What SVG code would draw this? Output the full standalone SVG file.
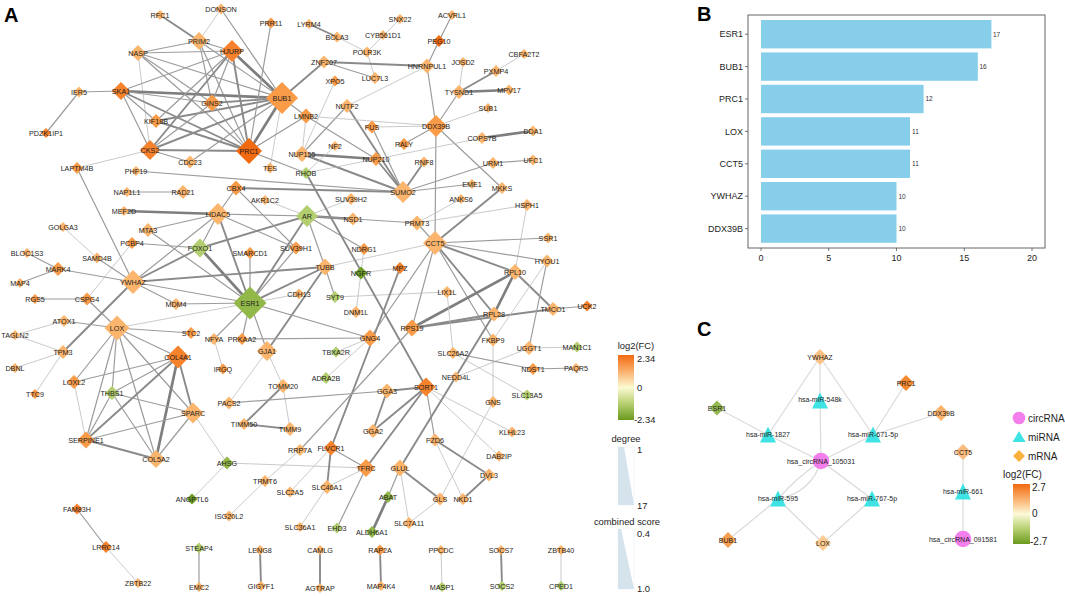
<svg xmlns="http://www.w3.org/2000/svg" width="1065" height="596" viewBox="0 0 1065 596">
<defs>
<linearGradient id="fcA" x1="0" y1="0" x2="0" y2="1">
<stop offset="0" stop-color="#F26A10"/><stop offset="0.28" stop-color="#FBB878"/><stop offset="0.5" stop-color="#FCFAD2"/><stop offset="0.75" stop-color="#B6CF70"/><stop offset="1" stop-color="#6A9A1E"/>
</linearGradient>
<linearGradient id="fcC" x1="0" y1="0" x2="0" y2="1">
<stop offset="0" stop-color="#F26A10"/><stop offset="0.28" stop-color="#FBB878"/><stop offset="0.5" stop-color="#FCFAD8"/><stop offset="0.75" stop-color="#B6CF70"/><stop offset="1" stop-color="#6A9A1E"/>
</linearGradient>
<style>
text{font-family:"Liberation Sans",Arial,sans-serif;fill:#1e1e1e}
.nodes text{font-size:7.2px;text-anchor:middle}
.o1{fill:#FCB56D}.o2{fill:#FA9B48}.o3{fill:#F6822C}.o4{fill:#F26A10}
.g1{fill:#B3CE6E}.g2{fill:#93B84A}.g3{fill:#6E9C27}
.edges line{stroke-linecap:round}
.t{stroke:#bdbdbd;stroke-width:0.8}
.m{stroke:#9c9c9c;stroke-width:1.2}
.k{stroke:#8a8a8a;stroke-width:1.9}
.K{stroke:#7e7e7e;stroke-width:2.7}
.lab{font-weight:bold;font-size:20px;fill:#000}
.ax{font-size:9px;fill:#4d4d4d}
.val{font-size:6.5px;fill:#333}
.bar{fill:#87CEEB}
.ce{stroke:#dadada;stroke-width:1.2;fill:none}
.cn text{font-size:7px;text-anchor:middle}
.tri{fill:#3FE3E3}.circ{fill:#F47FEC}
.leg{font-size:9.4px}
.legc{font-size:10px}
</style>
</defs>
<rect width="1065" height="596" fill="#fff"/>
<text class="lab" x="4" y="22">A</text>
<text class="lab" x="697" y="21">B</text>
<text class="lab" x="697" y="336">C</text>

<g id="edges-A" class="edges">
<line class="m" x1="79" y1="92" x2="121" y2="91"/>
<line class="m" x1="79" y1="92" x2="46" y2="133"/>
<line class="k" x1="160" y1="15" x2="199" y2="41"/>
<line class="m" x1="138" y1="53" x2="199" y2="41"/>
<line class="t" x1="138" y1="53" x2="150" y2="150"/>
<line class="m" x1="138" y1="53" x2="282" y2="98"/>
<line class="m" x1="138" y1="53" x2="232" y2="51"/>
<line class="m" x1="138" y1="53" x2="249" y2="151"/>
<line class="m" x1="138" y1="53" x2="212" y2="103"/>
<line class="m" x1="199" y1="41" x2="282" y2="98"/>
<line class="m" x1="199" y1="41" x2="232" y2="51"/>
<line class="m" x1="199" y1="41" x2="212" y2="103"/>
<line class="t" x1="199" y1="41" x2="221" y2="9"/>
<line class="m" x1="199" y1="41" x2="249" y2="151"/>
<line class="K" x1="121" y1="91" x2="282" y2="98"/>
<line class="k" x1="121" y1="91" x2="249" y2="151"/>
<line class="m" x1="121" y1="91" x2="232" y2="51"/>
<line class="m" x1="121" y1="91" x2="212" y2="103"/>
<line class="m" x1="121" y1="91" x2="150" y2="150"/>
<line class="m" x1="121" y1="91" x2="156" y2="121"/>
<line class="k" x1="156" y1="121" x2="282" y2="98"/>
<line class="k" x1="156" y1="121" x2="249" y2="151"/>
<line class="m" x1="156" y1="121" x2="232" y2="51"/>
<line class="k" x1="150" y1="150" x2="282" y2="98"/>
<line class="k" x1="150" y1="150" x2="249" y2="151"/>
<line class="k" x1="150" y1="150" x2="232" y2="51"/>
<line class="m" x1="150" y1="150" x2="212" y2="103"/>
<line class="t" x1="150" y1="150" x2="77" y2="168"/>
<line class="m" x1="150" y1="150" x2="190" y2="162"/>
<line class="m" x1="190" y1="162" x2="282" y2="98"/>
<line class="K" x1="232" y1="51" x2="282" y2="98"/>
<line class="k" x1="232" y1="51" x2="249" y2="151"/>
<line class="m" x1="232" y1="51" x2="212" y2="103"/>
<line class="k" x1="212" y1="103" x2="282" y2="98"/>
<line class="m" x1="212" y1="103" x2="249" y2="151"/>
<line class="m" x1="221" y1="9" x2="282" y2="98"/>
<line class="m" x1="271" y1="23" x2="249" y2="151"/>
<line class="K" x1="282" y1="98" x2="249" y2="151"/>
<line class="k" x1="282" y1="98" x2="324" y2="62"/>
<line class="m" x1="282" y1="98" x2="306" y2="116"/>
<line class="t" x1="282" y1="98" x2="270" y2="168"/>
<line class="m" x1="249" y1="151" x2="306" y2="116"/>
<line class="m" x1="249" y1="151" x2="306" y2="173"/>
<line class="t" x1="306" y1="116" x2="302" y2="154"/>
<line class="m" x1="306" y1="116" x2="376" y2="159"/>
<line class="m" x1="183" y1="192" x2="127" y2="192"/>
<line class="m" x1="136" y1="171" x2="403" y2="192"/>
<line class="m" x1="77" y1="168" x2="133" y2="282"/>
<line class="k" x1="309" y1="24" x2="337" y2="37"/>
<line class="t" x1="337" y1="37" x2="367" y2="52"/>
<line class="t" x1="400" y1="19" x2="367" y2="52"/>
<line class="t" x1="367" y1="52" x2="375" y2="78"/>
<line class="m" x1="324" y1="62" x2="375" y2="78"/>
<line class="k" x1="324" y1="62" x2="427" y2="66"/>
<line class="t" x1="335" y1="81" x2="302" y2="154"/>
<line class="m" x1="347" y1="106" x2="302" y2="154"/>
<line class="k" x1="347" y1="106" x2="403" y2="192"/>
<line class="t" x1="347" y1="106" x2="427" y2="66"/>
<line class="t" x1="306" y1="116" x2="436" y2="126"/>
<line class="m" x1="372" y1="127" x2="403" y2="192"/>
<line class="t" x1="372" y1="127" x2="436" y2="126"/>
<line class="K" x1="302" y1="154" x2="376" y2="159"/>
<line class="k" x1="302" y1="154" x2="403" y2="192"/>
<line class="k" x1="376" y1="159" x2="403" y2="192"/>
<line class="t" x1="335" y1="146" x2="306" y2="173"/>
<line class="m" x1="404" y1="144" x2="436" y2="126"/>
<line class="k" x1="236" y1="188" x2="403" y2="192"/>
<line class="m" x1="452" y1="15" x2="439" y2="41"/>
<line class="m" x1="439" y1="41" x2="427" y2="66"/>
<line class="m" x1="427" y1="66" x2="436" y2="126"/>
<line class="t" x1="463" y1="62" x2="459" y2="92"/>
<line class="t" x1="524" y1="54" x2="496" y2="71"/>
<line class="k" x1="496" y1="71" x2="459" y2="92"/>
<line class="K" x1="459" y1="92" x2="509" y2="90"/>
<line class="m" x1="459" y1="92" x2="436" y2="126"/>
<line class="t" x1="488" y1="108" x2="436" y2="126"/>
<line class="m" x1="436" y1="126" x2="502" y2="188"/>
<line class="m" x1="436" y1="126" x2="435" y2="243"/>
<line class="K" x1="482" y1="138" x2="533" y2="131"/>
<line class="t" x1="482" y1="138" x2="306" y2="173"/>
<line class="m" x1="493" y1="163" x2="533" y2="160"/>
<line class="m" x1="493" y1="163" x2="403" y2="192"/>
<line class="k" x1="424" y1="162" x2="403" y2="192"/>
<line class="m" x1="472" y1="184" x2="403" y2="192"/>
<line class="k" x1="502" y1="188" x2="435" y2="243"/>
<line class="t" x1="461" y1="199" x2="417" y2="223"/>
<line class="t" x1="527" y1="205" x2="417" y2="223"/>
<line class="t" x1="527" y1="205" x2="515" y2="272"/>
<line class="K" x1="218" y1="214" x2="124" y2="211"/>
<line class="m" x1="218" y1="214" x2="148" y2="230"/>
<line class="m" x1="218" y1="214" x2="236" y2="188"/>
<line class="m" x1="218" y1="214" x2="307" y2="216"/>
<line class="k" x1="218" y1="214" x2="250" y2="303"/>
<line class="m" x1="218" y1="214" x2="200" y2="248"/>
<line class="m" x1="218" y1="214" x2="133" y2="282"/>
<line class="m" x1="218" y1="214" x2="296" y2="248"/>
<line class="m" x1="148" y1="230" x2="250" y2="303"/>
<line class="m" x1="132" y1="243" x2="200" y2="248"/>
<line class="t" x1="132" y1="243" x2="87" y2="299"/>
<line class="K" x1="200" y1="248" x2="250" y2="303"/>
<line class="k" x1="200" y1="248" x2="133" y2="282"/>
<line class="k" x1="200" y1="248" x2="307" y2="216"/>
<line class="K" x1="307" y1="216" x2="353" y2="219"/>
<line class="k" x1="307" y1="216" x2="250" y2="303"/>
<line class="t" x1="307" y1="216" x2="351" y2="199"/>
<line class="m" x1="307" y1="216" x2="364" y2="249"/>
<line class="m" x1="307" y1="216" x2="417" y2="223"/>
<line class="m" x1="307" y1="216" x2="325" y2="267"/>
<line class="t" x1="307" y1="216" x2="265" y2="200"/>
<line class="m" x1="236" y1="188" x2="296" y2="248"/>
<line class="m" x1="250" y1="253" x2="250" y2="303"/>
<line class="m" x1="296" y1="248" x2="250" y2="303"/>
<line class="k" x1="325" y1="267" x2="250" y2="303"/>
<line class="k" x1="325" y1="267" x2="133" y2="282"/>
<line class="m" x1="325" y1="267" x2="335" y2="297"/>
<line class="k" x1="325" y1="267" x2="267" y2="351"/>
<line class="t" x1="361" y1="273" x2="400" y2="268"/>
<line class="t" x1="299" y1="294" x2="250" y2="303"/>
<line class="m" x1="250" y1="303" x2="133" y2="282"/>
<line class="m" x1="250" y1="303" x2="214" y2="339"/>
<line class="m" x1="250" y1="303" x2="242" y2="339"/>
<line class="m" x1="250" y1="303" x2="267" y2="351"/>
<line class="m" x1="250" y1="303" x2="370" y2="338"/>
<line class="m" x1="250" y1="303" x2="176" y2="304"/>
<line class="t" x1="250" y1="303" x2="117" y2="328"/>
<line class="t" x1="214" y1="339" x2="223" y2="369"/>
<line class="m" x1="242" y1="339" x2="370" y2="338"/>
<line class="t" x1="370" y1="338" x2="336" y2="352"/>
<line class="t" x1="370" y1="338" x2="326" y2="378"/>
<line class="t" x1="267" y1="351" x2="283" y2="386"/>
<line class="t" x1="283" y1="386" x2="290" y2="429"/>
<line class="k" x1="244" y1="424" x2="283" y2="386"/>
<line class="k" x1="244" y1="424" x2="290" y2="429"/>
<line class="m" x1="229" y1="403" x2="387" y2="391"/>
<line class="t" x1="229" y1="403" x2="267" y2="351"/>
<line class="k" x1="387" y1="391" x2="373" y2="431"/>
<line class="k" x1="387" y1="391" x2="426" y2="387"/>
<line class="k" x1="373" y1="431" x2="426" y2="387"/>
<line class="t" x1="63" y1="227" x2="97" y2="258"/>
<line class="m" x1="27" y1="253" x2="58" y2="269"/>
<line class="m" x1="58" y1="269" x2="20" y2="283"/>
<line class="m" x1="58" y1="269" x2="133" y2="282"/>
<line class="m" x1="97" y1="258" x2="133" y2="282"/>
<line class="m" x1="35" y1="299" x2="87" y2="299"/>
<line class="m" x1="87" y1="299" x2="117" y2="328"/>
<line class="m" x1="133" y1="282" x2="176" y2="304"/>
<line class="k" x1="133" y1="282" x2="63" y2="352"/>
<line class="m" x1="64" y1="321" x2="117" y2="328"/>
<line class="t" x1="64" y1="321" x2="15" y2="335"/>
<line class="t" x1="15" y1="335" x2="63" y2="352"/>
<line class="t" x1="63" y1="352" x2="15" y2="368"/>
<line class="t" x1="63" y1="352" x2="35" y2="394"/>
<line class="m" x1="117" y1="328" x2="191" y2="333"/>
<line class="m" x1="117" y1="328" x2="178" y2="357"/>
<line class="m" x1="117" y1="328" x2="74" y2="382"/>
<line class="m" x1="117" y1="328" x2="112" y2="393"/>
<line class="m" x1="117" y1="328" x2="86" y2="440"/>
<line class="m" x1="117" y1="328" x2="156" y2="459"/>
<line class="m" x1="117" y1="328" x2="193" y2="413"/>
<line class="m" x1="178" y1="357" x2="74" y2="382"/>
<line class="k" x1="178" y1="357" x2="86" y2="440"/>
<line class="K" x1="178" y1="357" x2="156" y2="459"/>
<line class="k" x1="178" y1="357" x2="193" y2="413"/>
<line class="m" x1="178" y1="357" x2="112" y2="393"/>
<line class="m" x1="112" y1="393" x2="193" y2="413"/>
<line class="m" x1="112" y1="393" x2="86" y2="440"/>
<line class="m" x1="112" y1="393" x2="156" y2="459"/>
<line class="m" x1="193" y1="413" x2="86" y2="440"/>
<line class="m" x1="193" y1="413" x2="156" y2="459"/>
<line class="k" x1="86" y1="440" x2="156" y2="459"/>
<line class="t" x1="74" y1="382" x2="86" y2="440"/>
<line class="t" x1="193" y1="413" x2="227" y2="463"/>
<line class="t" x1="227" y1="463" x2="192" y2="499"/>
<line class="t" x1="227" y1="463" x2="366" y2="468"/>
<line class="m" x1="417" y1="223" x2="435" y2="243"/>
<line class="m" x1="435" y1="243" x2="548" y2="238"/>
<line class="m" x1="435" y1="243" x2="547" y2="261"/>
<line class="k" x1="435" y1="243" x2="515" y2="272"/>
<line class="k" x1="435" y1="243" x2="494" y2="314"/>
<line class="m" x1="435" y1="243" x2="493" y2="340"/>
<line class="m" x1="435" y1="243" x2="412" y2="328"/>
<line class="m" x1="435" y1="243" x2="370" y2="338"/>
<line class="t" x1="435" y1="243" x2="325" y2="267"/>
<line class="k" x1="515" y1="272" x2="553" y2="309"/>
<line class="K" x1="515" y1="272" x2="494" y2="314"/>
<line class="K" x1="515" y1="272" x2="412" y2="328"/>
<line class="k" x1="494" y1="314" x2="412" y2="328"/>
<line class="k" x1="412" y1="328" x2="553" y2="309"/>
<line class="m" x1="553" y1="309" x2="587" y2="306"/>
<line class="m" x1="547" y1="261" x2="529" y2="348"/>
<line class="t" x1="547" y1="261" x2="493" y2="340"/>
<line class="t" x1="447" y1="292" x2="453" y2="353"/>
<line class="t" x1="447" y1="292" x2="335" y2="297"/>
<line class="t" x1="493" y1="340" x2="493" y2="402"/>
<line class="t" x1="529" y1="348" x2="577" y2="347"/>
<line class="t" x1="529" y1="348" x2="456" y2="377"/>
<line class="m" x1="453" y1="353" x2="533" y2="369"/>
<line class="m" x1="533" y1="369" x2="576" y2="368"/>
<line class="t" x1="453" y1="353" x2="527" y2="395"/>
<line class="t" x1="426" y1="387" x2="512" y2="432"/>
<line class="t" x1="426" y1="387" x2="499" y2="456"/>
<line class="m" x1="426" y1="387" x2="435" y2="440"/>
<line class="k" x1="426" y1="387" x2="366" y2="468"/>
<line class="k" x1="306" y1="173" x2="426" y2="387"/>
<line class="t" x1="493" y1="402" x2="440" y2="499"/>
<line class="k" x1="435" y1="440" x2="489" y2="475"/>
<line class="t" x1="435" y1="440" x2="463" y2="499"/>
<line class="k" x1="489" y1="475" x2="463" y2="499"/>
<line class="k" x1="400" y1="468" x2="440" y2="499"/>
<line class="t" x1="400" y1="468" x2="409" y2="523"/>
<line class="t" x1="440" y1="499" x2="409" y2="523"/>
<line class="m" x1="400" y1="468" x2="388" y2="497"/>
<line class="K" x1="388" y1="497" x2="372" y2="532"/>
<line class="k" x1="400" y1="468" x2="494" y2="314"/>
<line class="m" x1="331" y1="448" x2="366" y2="468"/>
<line class="k" x1="331" y1="448" x2="327" y2="487"/>
<line class="t" x1="331" y1="448" x2="290" y2="492"/>
<line class="k" x1="331" y1="448" x2="400" y2="268"/>
<line class="t" x1="366" y1="468" x2="327" y2="487"/>
<line class="m" x1="366" y1="468" x2="337" y2="528"/>
<line class="t" x1="300" y1="527" x2="327" y2="487"/>
<line class="m" x1="300" y1="450" x2="412" y2="328"/>
<line class="t" x1="265" y1="481" x2="229" y2="516"/>
<line class="t" x1="265" y1="481" x2="300" y2="450"/>
<line class="k" x1="260" y1="550" x2="261" y2="586"/>
<line class="k" x1="320" y1="550" x2="320" y2="588"/>
<line class="k" x1="380" y1="550" x2="381" y2="586"/>
<line class="t" x1="441" y1="550" x2="442" y2="587"/>
<line class="k" x1="501" y1="550" x2="502" y2="586"/>
<line class="t" x1="561" y1="550" x2="561" y2="586"/>
<line class="m" x1="199" y1="548" x2="199" y2="587"/>
<line class="m" x1="77" y1="509" x2="106" y2="547"/>
<line class="t" x1="106" y1="547" x2="138" y2="583"/>
<line class="t" x1="356" y1="312" x2="364" y2="249"/>
</g>

<g class="nodes">
<g id="n-RFC1" transform="translate(160,15)"><polygon class="o1" points="0,-5 5,0 0,5 -5,0"/><text y="2.6">RFC1</text></g>
<g id="n-PRIM2" transform="translate(199,41)"><polygon class="o1" points="0,-9 9,0 0,9 -9,0"/><text y="2.6">PRIM2</text></g>
<g id="n-NASP" transform="translate(138,53)"><polygon class="o1" points="0,-8 8,0 0,8 -8,0"/><text y="2.6">NASP</text></g>
<g id="n-SKA1" transform="translate(121,91)"><polygon class="o3" points="0,-9 9,0 0,9 -9,0"/><text y="2.6">SKA1</text></g>
<g id="n-IER5" transform="translate(79,92)"><polygon class="o1" points="0,-5.5 5.5,0 0,5.5 -5.5,0"/><text y="2.6">IER5</text></g>
<g id="n-PDZK1IP1" transform="translate(46,133)"><polygon class="o3" points="0,-5 5,0 0,5 -5,0"/><text y="2.6">PDZK1IP1</text></g>
<g id="n-KIF18B" transform="translate(156,121)"><polygon class="o2" points="0,-7 7,0 0,7 -7,0"/><text y="2.6">KIF18B</text></g>
<g id="n-CKS2" transform="translate(150,150)"><polygon class="o3" points="0,-10 10,0 0,10 -10,0"/><text y="2.6">CKS2</text></g>
<g id="n-CDC23" transform="translate(190,162)"><polygon class="o1" points="0,-6.5 6.5,0 0,6.5 -6.5,0"/><text y="2.6">CDC23</text></g>
<g id="n-LAPTM4B" transform="translate(77,168)"><polygon class="o2" points="0,-6 6,0 0,6 -6,0"/><text y="2.6">LAPTM4B</text></g>
<g id="n-PHF19" transform="translate(136,171)"><polygon class="o1" points="0,-5 5,0 0,5 -5,0"/><text y="2.6">PHF19</text></g>
<g id="n-NAP1L1" transform="translate(127,192)"><polygon class="o1" points="0,-5 5,0 0,5 -5,0"/><text y="2.6">NAP1L1</text></g>
<g id="n-RAD21" transform="translate(183,192)"><polygon class="o1" points="0,-7 7,0 0,7 -7,0"/><text y="2.6">RAD21</text></g>
<g id="n-DONSON" transform="translate(221,9)"><polygon class="o1" points="0,-5.5 5.5,0 0,5.5 -5.5,0"/><text y="2.6">DONSON</text></g>
<g id="n-PRR11" transform="translate(271,23)"><polygon class="o2" points="0,-5.5 5.5,0 0,5.5 -5.5,0"/><text y="2.6">PRR11</text></g>
<g id="n-LYRM4" transform="translate(309,24)"><polygon class="o1" points="0,-5 5,0 0,5 -5,0"/><text y="2.6">LYRM4</text></g>
<g id="n-BOLA3" transform="translate(337,37)"><polygon class="o1" points="0,-5.5 5.5,0 0,5.5 -5.5,0"/><text y="2.6">BOLA3</text></g>
<g id="n-CYB561D1" transform="translate(383,35)"><polygon class="o1" points="0,-5 5,0 0,5 -5,0"/><text y="2.6">CYB561D1</text></g>
<g id="n-SNX22" transform="translate(400,19)"><polygon class="o1" points="0,-5 5,0 0,5 -5,0"/><text y="2.6">SNX22</text></g>
<g id="n-POLR3K" transform="translate(367,52)"><polygon class="o1" points="0,-5.5 5.5,0 0,5.5 -5.5,0"/><text y="2.6">POLR3K</text></g>
<g id="n-HJURP" transform="translate(232,51)"><polygon class="o3" points="0,-11 11,0 0,11 -11,0"/><text y="2.6">HJURP</text></g>
<g id="n-ZNF207" transform="translate(324,62)"><polygon class="o1" points="0,-6.5 6.5,0 0,6.5 -6.5,0"/><text y="2.6">ZNF207</text></g>
<g id="n-LUC7L3" transform="translate(375,78)"><polygon class="o1" points="0,-6 6,0 0,6 -6,0"/><text y="2.6">LUC7L3</text></g>
<g id="n-XPO5" transform="translate(335,81)"><polygon class="o2" points="0,-5.5 5.5,0 0,5.5 -5.5,0"/><text y="2.6">XPO5</text></g>
<g id="n-BUB1" transform="translate(282,98)"><polygon class="o2" points="0,-16 16,0 0,16 -16,0"/><text y="2.6">BUB1</text></g>
<g id="n-GINS2" transform="translate(212,103)"><polygon class="o2" points="0,-8.5 8.5,0 0,8.5 -8.5,0"/><text y="2.6">GINS2</text></g>
<g id="n-NUTF2" transform="translate(347,106)"><polygon class="o1" points="0,-7 7,0 0,7 -7,0"/><text y="2.6">NUTF2</text></g>
<g id="n-LMNB2" transform="translate(306,116)"><polygon class="o2" points="0,-7.5 7.5,0 0,7.5 -7.5,0"/><text y="2.6">LMNB2</text></g>
<g id="n-FUS" transform="translate(372,127)"><polygon class="o2" points="0,-6.5 6.5,0 0,6.5 -6.5,0"/><text y="2.6">FUS</text></g>
<g id="n-PRC1" transform="translate(249,151)"><polygon class="o4" points="0,-13 13,0 0,13 -13,0"/><text y="2.6">PRC1</text></g>
<g id="n-NUP155" transform="translate(302,154)"><polygon class="o1" points="0,-8 8,0 0,8 -8,0"/><text y="2.6">NUP155</text></g>
<g id="n-NF2" transform="translate(335,146)"><polygon class="o1" points="0,-5 5,0 0,5 -5,0"/><text y="2.6">NF2</text></g>
<g id="n-NUP210" transform="translate(376,159)"><polygon class="o2" points="0,-7 7,0 0,7 -7,0"/><text y="2.6">NUP210</text></g>
<g id="n-RALY" transform="translate(404,144)"><polygon class="o2" points="0,-6 6,0 0,6 -6,0"/><text y="2.6">RALY</text></g>
<g id="n-TES" transform="translate(270,168)"><polygon class="o1" points="0,-5.5 5.5,0 0,5.5 -5.5,0"/><text y="2.6">TES</text></g>
<g id="n-RHOB" transform="translate(306,173)"><polygon class="g1" points="0,-6 6,0 0,6 -6,0"/><text y="2.6">RHOB</text></g>
<g id="n-CBX4" transform="translate(236,188)"><polygon class="o2" points="0,-7.5 7.5,0 0,7.5 -7.5,0"/><text y="2.6">CBX4</text></g>
<g id="n-AKR1C2" transform="translate(265,200)"><polygon class="o1" points="0,-5 5,0 0,5 -5,0"/><text y="2.6">AKR1C2</text></g>
<g id="n-SUV39H2" transform="translate(351,199)"><polygon class="o1" points="0,-6 6,0 0,6 -6,0"/><text y="2.6">SUV39H2</text></g>
<g id="n-SUMO2" transform="translate(403,192)"><polygon class="o1" points="0,-11 11,0 0,11 -11,0"/><text y="2.6">SUMO2</text></g>
<g id="n-ACVRL1" transform="translate(452,15)"><polygon class="o1" points="0,-5 5,0 0,5 -5,0"/><text y="2.6">ACVRL1</text></g>
<g id="n-PEG10" transform="translate(439,41)"><polygon class="o4" points="0,-6 6,0 0,6 -6,0"/><text y="2.6">PEG10</text></g>
<g id="n-HNRNPUL1" transform="translate(427,66)"><polygon class="o1" points="0,-7.5 7.5,0 0,7.5 -7.5,0"/><text y="2.6">HNRNPUL1</text></g>
<g id="n-JOSD2" transform="translate(463,62)"><polygon class="o1" points="0,-5 5,0 0,5 -5,0"/><text y="2.6">JOSD2</text></g>
<g id="n-CBFA2T2" transform="translate(524,54)"><polygon class="o1" points="0,-5 5,0 0,5 -5,0"/><text y="2.6">CBFA2T2</text></g>
<g id="n-PXMP4" transform="translate(496,71)"><polygon class="o1" points="0,-6 6,0 0,6 -6,0"/><text y="2.6">PXMP4</text></g>
<g id="n-TYSND1" transform="translate(459,92)"><polygon class="o1" points="0,-7 7,0 0,7 -7,0"/><text y="2.6">TYSND1</text></g>
<g id="n-MPV17" transform="translate(509,90)"><polygon class="o1" points="0,-5.5 5.5,0 0,5.5 -5.5,0"/><text y="2.6">MPV17</text></g>
<g id="n-SUB1" transform="translate(488,108)"><polygon class="o1" points="0,-5 5,0 0,5 -5,0"/><text y="2.6">SUB1</text></g>
<g id="n-DDX39B" transform="translate(436,126)"><polygon class="o2" points="0,-11 11,0 0,11 -11,0"/><text y="2.6">DDX39B</text></g>
<g id="n-DDA1" transform="translate(533,131)"><polygon class="o1" points="0,-5.5 5.5,0 0,5.5 -5.5,0"/><text y="2.6">DDA1</text></g>
<g id="n-COPS7B" transform="translate(482,138)"><polygon class="o1" points="0,-6 6,0 0,6 -6,0"/><text y="2.6">COPS7B</text></g>
<g id="n-RNF8" transform="translate(424,162)"><polygon class="o1" points="0,-5.5 5.5,0 0,5.5 -5.5,0"/><text y="2.6">RNF8</text></g>
<g id="n-URM1" transform="translate(493,163)"><polygon class="o1" points="0,-6 6,0 0,6 -6,0"/><text y="2.6">URM1</text></g>
<g id="n-UFC1" transform="translate(533,160)"><polygon class="o1" points="0,-5.5 5.5,0 0,5.5 -5.5,0"/><text y="2.6">UFC1</text></g>
<g id="n-EME1" transform="translate(472,184)"><polygon class="o1" points="0,-5 5,0 0,5 -5,0"/><text y="2.6">EME1</text></g>
<g id="n-MKKS" transform="translate(502,188)"><polygon class="o1" points="0,-6 6,0 0,6 -6,0"/><text y="2.6">MKKS</text></g>
<g id="n-ANKS6" transform="translate(461,199)"><polygon class="o1" points="0,-5 5,0 0,5 -5,0"/><text y="2.6">ANKS6</text></g>
<g id="n-HSPH1" transform="translate(527,205)"><polygon class="o1" points="0,-6 6,0 0,6 -6,0"/><text y="2.6">HSPH1</text></g>
<g id="n-MEF2D" transform="translate(124,211)"><polygon class="o1" points="0,-5 5,0 0,5 -5,0"/><text y="2.6">MEF2D</text></g>
<g id="n-MTA3" transform="translate(148,230)"><polygon class="o1" points="0,-7 7,0 0,7 -7,0"/><text y="2.6">MTA3</text></g>
<g id="n-GOLGA3" transform="translate(63,227)"><polygon class="o1" points="0,-5 5,0 0,5 -5,0"/><text y="2.6">GOLGA3</text></g>
<g id="n-PCBP4" transform="translate(132,243)"><polygon class="o2" points="0,-6 6,0 0,6 -6,0"/><text y="2.6">PCBP4</text></g>
<g id="n-FOXO1" transform="translate(200,248)"><polygon class="g1" points="0,-9.5 9.5,0 0,9.5 -9.5,0"/><text y="2.6">FOXO1</text></g>
<g id="n-BLOC1S3" transform="translate(27,253)"><polygon class="o1" points="0,-5 5,0 0,5 -5,0"/><text y="2.6">BLOC1S3</text></g>
<g id="n-SAMD4B" transform="translate(97,258)"><polygon class="o1" points="0,-5.5 5.5,0 0,5.5 -5.5,0"/><text y="2.6">SAMD4B</text></g>
<g id="n-MARK4" transform="translate(58,269)"><polygon class="o2" points="0,-7 7,0 0,7 -7,0"/><text y="2.6">MARK4</text></g>
<g id="n-MAP4" transform="translate(20,283)"><polygon class="o1" points="0,-5 5,0 0,5 -5,0"/><text y="2.6">MAP4</text></g>
<g id="n-YWHAZ" transform="translate(133,282)"><polygon class="o1" points="0,-12 12,0 0,12 -12,0"/><text y="2.6">YWHAZ</text></g>
<g id="n-RGS5" transform="translate(35,299)"><polygon class="o2" points="0,-5 5,0 0,5 -5,0"/><text y="2.6">RGS5</text></g>
<g id="n-CSPG4" transform="translate(87,299)"><polygon class="o2" points="0,-6.5 6.5,0 0,6.5 -6.5,0"/><text y="2.6">CSPG4</text></g>
<g id="n-MDM4" transform="translate(176,304)"><polygon class="o1" points="0,-6 6,0 0,6 -6,0"/><text y="2.6">MDM4</text></g>
<g id="n-ATOX1" transform="translate(64,321)"><polygon class="o1" points="0,-6 6,0 0,6 -6,0"/><text y="2.6">ATOX1</text></g>
<g id="n-LOX" transform="translate(117,328)"><polygon class="o1" points="0,-12.5 12.5,0 0,12.5 -12.5,0"/><text y="2.6">LOX</text></g>
<g id="n-STC2" transform="translate(191,333)"><polygon class="o2" points="0,-6 6,0 0,6 -6,0"/><text y="2.6">STC2</text></g>
<g id="n-TAGLN2" transform="translate(15,335)"><polygon class="o1" points="0,-5 5,0 0,5 -5,0"/><text y="2.6">TAGLN2</text></g>
<g id="n-TPM3" transform="translate(63,352)"><polygon class="o1" points="0,-7 7,0 0,7 -7,0"/><text y="2.6">TPM3</text></g>
<g id="n-COL4A1" transform="translate(178,357)"><polygon class="o3" points="0,-11.5 11.5,0 0,11.5 -11.5,0"/><text y="2.6">COL4A1</text></g>
<g id="n-DBNL" transform="translate(15,368)"><polygon class="o1" points="0,-5 5,0 0,5 -5,0"/><text y="2.6">DBNL</text></g>
<g id="n-LOXL2" transform="translate(74,382)"><polygon class="o2" points="0,-7 7,0 0,7 -7,0"/><text y="2.6">LOXL2</text></g>
<g id="n-TTC9" transform="translate(35,394)"><polygon class="o2" points="0,-5 5,0 0,5 -5,0"/><text y="2.6">TTC9</text></g>
<g id="n-THBS1" transform="translate(112,393)"><polygon class="g1" points="0,-7 7,0 0,7 -7,0"/><text y="2.6">THBS1</text></g>
<g id="n-HDAC5" transform="translate(218,214)"><polygon class="o1" points="0,-11 11,0 0,11 -11,0"/><text y="2.6">HDAC5</text></g>
<g id="n-AR" transform="translate(307,216)"><polygon class="g1" points="0,-11 11,0 0,11 -11,0"/><text y="2.6">AR</text></g>
<g id="n-NSD1" transform="translate(353,219)"><polygon class="o1" points="0,-6.5 6.5,0 0,6.5 -6.5,0"/><text y="2.6">NSD1</text></g>
<g id="n-SMARCD1" transform="translate(250,253)"><polygon class="o2" points="0,-6 6,0 0,6 -6,0"/><text y="2.6">SMARCD1</text></g>
<g id="n-SUV39H1" transform="translate(296,248)"><polygon class="o2" points="0,-6.5 6.5,0 0,6.5 -6.5,0"/><text y="2.6">SUV39H1</text></g>
<g id="n-NDRG1" transform="translate(364,249)"><polygon class="o2" points="0,-6 6,0 0,6 -6,0"/><text y="2.6">NDRG1</text></g>
<g id="n-TUBB" transform="translate(325,267)"><polygon class="o1" points="0,-8.5 8.5,0 0,8.5 -8.5,0"/><text y="2.6">TUBB</text></g>
<g id="n-NGFR" transform="translate(361,273)"><polygon class="g3" points="0,-6.5 6.5,0 0,6.5 -6.5,0"/><text y="2.6">NGFR</text></g>
<g id="n-MPZ" transform="translate(400,268)"><polygon class="o3" points="0,-6 6,0 0,6 -6,0"/><text y="2.6">MPZ</text></g>
<g id="n-ESR1" transform="translate(250,303)"><polygon class="g2" points="0,-16.5 16.5,0 0,16.5 -16.5,0"/><text y="2.6">ESR1</text></g>
<g id="n-CDH13" transform="translate(299,294)"><polygon class="o1" points="0,-5.5 5.5,0 0,5.5 -5.5,0"/><text y="2.6">CDH13</text></g>
<g id="n-SYT9" transform="translate(335,297)"><polygon class="g1" points="0,-6 6,0 0,6 -6,0"/><text y="2.6">SYT9</text></g>
<g id="n-DNM1L" transform="translate(356,312)"><polygon class="o1" points="0,-6 6,0 0,6 -6,0"/><text y="2.6">DNM1L</text></g>
<g id="n-NFYA" transform="translate(214,339)"><polygon class="o1" points="0,-6 6,0 0,6 -6,0"/><text y="2.6">NFYA</text></g>
<g id="n-PRKAA2" transform="translate(242,339)"><polygon class="o2" points="0,-6 6,0 0,6 -6,0"/><text y="2.6">PRKAA2</text></g>
<g id="n-GNG4" transform="translate(370,338)"><polygon class="o2" points="0,-8.5 8.5,0 0,8.5 -8.5,0"/><text y="2.6">GNG4</text></g>
<g id="n-GJA1" transform="translate(267,351)"><polygon class="o1" points="0,-10 10,0 0,10 -10,0"/><text y="2.6">GJA1</text></g>
<g id="n-TBXA2R" transform="translate(336,352)"><polygon class="g1" points="0,-5.5 5.5,0 0,5.5 -5.5,0"/><text y="2.6">TBXA2R</text></g>
<g id="n-IRGQ" transform="translate(223,369)"><polygon class="o2" points="0,-5.5 5.5,0 0,5.5 -5.5,0"/><text y="2.6">IRGQ</text></g>
<g id="n-ADRA2B" transform="translate(326,378)"><polygon class="g1" points="0,-6 6,0 0,6 -6,0"/><text y="2.6">ADRA2B</text></g>
<g id="n-TOMM20" transform="translate(283,386)"><polygon class="o1" points="0,-7 7,0 0,7 -7,0"/><text y="2.6">TOMM20</text></g>
<g id="n-GGA3" transform="translate(387,391)"><polygon class="o1" points="0,-7.5 7.5,0 0,7.5 -7.5,0"/><text y="2.6">GGA3</text></g>
<g id="n-PRMT3" transform="translate(417,223)"><polygon class="o1" points="0,-7.5 7.5,0 0,7.5 -7.5,0"/><text y="2.6">PRMT3</text></g>
<g id="n-CCT5" transform="translate(435,243)"><polygon class="o1" points="0,-12 12,0 0,12 -12,0"/><text y="2.6">CCT5</text></g>
<g id="n-SSR1" transform="translate(548,238)"><polygon class="o1" points="0,-5.5 5.5,0 0,5.5 -5.5,0"/><text y="2.6">SSR1</text></g>
<g id="n-HYOU1" transform="translate(547,261)"><polygon class="o1" points="0,-6.5 6.5,0 0,6.5 -6.5,0"/><text y="2.6">HYOU1</text></g>
<g id="n-RPL10" transform="translate(515,272)"><polygon class="o1" points="0,-8 8,0 0,8 -8,0"/><text y="2.6">RPL10</text></g>
<g id="n-LIX1L" transform="translate(447,292)"><polygon class="o1" points="0,-6 6,0 0,6 -6,0"/><text y="2.6">LIX1L</text></g>
<g id="n-TMCO1" transform="translate(553,309)"><polygon class="o1" points="0,-7 7,0 0,7 -7,0"/><text y="2.6">TMCO1</text></g>
<g id="n-UCK2" transform="translate(587,306)"><polygon class="o3" points="0,-5.5 5.5,0 0,5.5 -5.5,0"/><text y="2.6">UCK2</text></g>
<g id="n-RPL28" transform="translate(494,314)"><polygon class="o1" points="0,-7.5 7.5,0 0,7.5 -7.5,0"/><text y="2.6">RPL28</text></g>
<g id="n-RPS19" transform="translate(412,328)"><polygon class="o2" points="0,-8.5 8.5,0 0,8.5 -8.5,0"/><text y="2.6">RPS19</text></g>
<g id="n-FKBP9" transform="translate(493,340)"><polygon class="o1" points="0,-6.5 6.5,0 0,6.5 -6.5,0"/><text y="2.6">FKBP9</text></g>
<g id="n-UGGT1" transform="translate(529,348)"><polygon class="o1" points="0,-7 7,0 0,7 -7,0"/><text y="2.6">UGGT1</text></g>
<g id="n-MAN1C1" transform="translate(577,347)"><polygon class="g1" points="0,-5.5 5.5,0 0,5.5 -5.5,0"/><text y="2.6">MAN1C1</text></g>
<g id="n-SLC26A2" transform="translate(453,353)"><polygon class="o1" points="0,-6 6,0 0,6 -6,0"/><text y="2.6">SLC26A2</text></g>
<g id="n-NDST1" transform="translate(533,369)"><polygon class="o2" points="0,-6 6,0 0,6 -6,0"/><text y="2.6">NDST1</text></g>
<g id="n-PAQR5" transform="translate(576,368)"><polygon class="o1" points="0,-5 5,0 0,5 -5,0"/><text y="2.6">PAQR5</text></g>
<g id="n-NEDD4L" transform="translate(456,377)"><polygon class="o1" points="0,-5.5 5.5,0 0,5.5 -5.5,0"/><text y="2.6">NEDD4L</text></g>
<g id="n-SORT1" transform="translate(426,387)"><polygon class="o3" points="0,-9.5 9.5,0 0,9.5 -9.5,0"/><text y="2.6">SORT1</text></g>
<g id="n-SLC13A5" transform="translate(527,395)"><polygon class="g1" points="0,-5.5 5.5,0 0,5.5 -5.5,0"/><text y="2.6">SLC13A5</text></g>
<g id="n-GNS" transform="translate(493,402)"><polygon class="o1" points="0,-6 6,0 0,6 -6,0"/><text y="2.6">GNS</text></g>
<g id="n-SPARC" transform="translate(193,413)"><polygon class="o1" points="0,-10.5 10.5,0 0,10.5 -10.5,0"/><text y="2.6">SPARC</text></g>
<g id="n-SERPINE1" transform="translate(86,440)"><polygon class="o2" points="0,-8.5 8.5,0 0,8.5 -8.5,0"/><text y="2.6">SERPINE1</text></g>
<g id="n-COL5A2" transform="translate(156,459)"><polygon class="o1" points="0,-9 9,0 0,9 -9,0"/><text y="2.6">COL5A2</text></g>
<g id="n-ANGPTL6" transform="translate(192,499)"><polygon class="g3" points="0,-5.5 5.5,0 0,5.5 -5.5,0"/><text y="2.6">ANGPTL6</text></g>
<g id="n-FAM83H" transform="translate(77,509)"><polygon class="o3" points="0,-5.5 5.5,0 0,5.5 -5.5,0"/><text y="2.6">FAM83H</text></g>
<g id="n-LRRC14" transform="translate(106,547)"><polygon class="o3" points="0,-6 6,0 0,6 -6,0"/><text y="2.6">LRRC14</text></g>
<g id="n-ZBTB22" transform="translate(138,583)"><polygon class="o1" points="0,-5 5,0 0,5 -5,0"/><text y="2.6">ZBTB22</text></g>
<g id="n-STEAP4" transform="translate(199,548)"><polygon class="g1" points="0,-5.5 5.5,0 0,5.5 -5.5,0"/><text y="2.6">STEAP4</text></g>
<g id="n-EMC2" transform="translate(199,587)"><polygon class="o1" points="0,-5 5,0 0,5 -5,0"/><text y="2.6">EMC2</text></g>
<g id="n-PACS2" transform="translate(229,403)"><polygon class="o1" points="0,-6.5 6.5,0 0,6.5 -6.5,0"/><text y="2.6">PACS2</text></g>
<g id="n-TIMM50" transform="translate(244,424)"><polygon class="o1" points="0,-6 6,0 0,6 -6,0"/><text y="2.6">TIMM50</text></g>
<g id="n-TIMM9" transform="translate(290,429)"><polygon class="o1" points="0,-7 7,0 0,7 -7,0"/><text y="2.6">TIMM9</text></g>
<g id="n-GGA2" transform="translate(373,431)"><polygon class="o1" points="0,-7 7,0 0,7 -7,0"/><text y="2.6">GGA2</text></g>
<g id="n-RRP7A" transform="translate(300,450)"><polygon class="o1" points="0,-6 6,0 0,6 -6,0"/><text y="2.6">RRP7A</text></g>
<g id="n-FLVCR1" transform="translate(331,448)"><polygon class="o3" points="0,-7.5 7.5,0 0,7.5 -7.5,0"/><text y="2.6">FLVCR1</text></g>
<g id="n-AHSG" transform="translate(227,463)"><polygon class="g2" points="0,-6.5 6.5,0 0,6.5 -6.5,0"/><text y="2.6">AHSG</text></g>
<g id="n-TFRC" transform="translate(366,468)"><polygon class="o2" points="0,-9 9,0 0,9 -9,0"/><text y="2.6">TFRC</text></g>
<g id="n-GLUL" transform="translate(400,468)"><polygon class="o1" points="0,-8.5 8.5,0 0,8.5 -8.5,0"/><text y="2.6">GLUL</text></g>
<g id="n-TRMT6" transform="translate(265,481)"><polygon class="o1" points="0,-6 6,0 0,6 -6,0"/><text y="2.6">TRMT6</text></g>
<g id="n-SLC2A5" transform="translate(290,492)"><polygon class="o1" points="0,-5.5 5.5,0 0,5.5 -5.5,0"/><text y="2.6">SLC2A5</text></g>
<g id="n-SLC46A1" transform="translate(327,487)"><polygon class="o1" points="0,-7 7,0 0,7 -7,0"/><text y="2.6">SLC46A1</text></g>
<g id="n-ABAT" transform="translate(388,497)"><polygon class="g2" points="0,-6 6,0 0,6 -6,0"/><text y="2.6">ABAT</text></g>
<g id="n-ISG20L2" transform="translate(229,516)"><polygon class="o1" points="0,-5.5 5.5,0 0,5.5 -5.5,0"/><text y="2.6">ISG20L2</text></g>
<g id="n-SLC36A1" transform="translate(300,527)"><polygon class="o1" points="0,-5 5,0 0,5 -5,0"/><text y="2.6">SLC36A1</text></g>
<g id="n-EHD3" transform="translate(337,528)"><polygon class="g1" points="0,-5.5 5.5,0 0,5.5 -5.5,0"/><text y="2.6">EHD3</text></g>
<g id="n-ALDH6A1" transform="translate(372,532)"><polygon class="g2" points="0,-6 6,0 0,6 -6,0"/><text y="2.6">ALDH6A1</text></g>
<g id="n-SLC7A11" transform="translate(409,523)"><polygon class="o1" points="0,-6 6,0 0,6 -6,0"/><text y="2.6">SLC7A11</text></g>
<g id="n-LENG8" transform="translate(260,550)"><polygon class="o1" points="0,-5 5,0 0,5 -5,0"/><text y="2.6">LENG8</text></g>
<g id="n-GIGYF1" transform="translate(261,586)"><polygon class="o1" points="0,-5 5,0 0,5 -5,0"/><text y="2.6">GIGYF1</text></g>
<g id="n-CAMLG" transform="translate(320,550)"><polygon class="o1" points="0,-5 5,0 0,5 -5,0"/><text y="2.6">CAMLG</text></g>
<g id="n-AGTRAP" transform="translate(320,588)"><polygon class="o1" points="0,-5 5,0 0,5 -5,0"/><text y="2.6">AGTRAP</text></g>
<g id="n-RAP2A" transform="translate(380,550)"><polygon class="o2" points="0,-5.5 5.5,0 0,5.5 -5.5,0"/><text y="2.6">RAP2A</text></g>
<g id="n-MAP4K4" transform="translate(381,586)"><polygon class="o1" points="0,-5 5,0 0,5 -5,0"/><text y="2.6">MAP4K4</text></g>
<g id="n-KLHL23" transform="translate(512,432)"><polygon class="o1" points="0,-5.5 5.5,0 0,5.5 -5.5,0"/><text y="2.6">KLHL23</text></g>
<g id="n-FZD6" transform="translate(435,440)"><polygon class="o1" points="0,-6.5 6.5,0 0,6.5 -6.5,0"/><text y="2.6">FZD6</text></g>
<g id="n-DAB2IP" transform="translate(499,456)"><polygon class="o1" points="0,-5.5 5.5,0 0,5.5 -5.5,0"/><text y="2.6">DAB2IP</text></g>
<g id="n-DVL3" transform="translate(489,475)"><polygon class="o1" points="0,-6.5 6.5,0 0,6.5 -6.5,0"/><text y="2.6">DVL3</text></g>
<g id="n-GLS" transform="translate(440,499)"><polygon class="o1" points="0,-6.5 6.5,0 0,6.5 -6.5,0"/><text y="2.6">GLS</text></g>
<g id="n-NKD1" transform="translate(463,499)"><polygon class="o1" points="0,-6 6,0 0,6 -6,0"/><text y="2.6">NKD1</text></g>
<g id="n-PPCDC" transform="translate(441,550)"><polygon class="o1" points="0,-5 5,0 0,5 -5,0"/><text y="2.6">PPCDC</text></g>
<g id="n-MASP1" transform="translate(442,587)"><polygon class="g1" points="0,-5 5,0 0,5 -5,0"/><text y="2.6">MASP1</text></g>
<g id="n-SOCS7" transform="translate(501,550)"><polygon class="o1" points="0,-5 5,0 0,5 -5,0"/><text y="2.6">SOCS7</text></g>
<g id="n-SOCS2" transform="translate(502,586)"><polygon class="g1" points="0,-5 5,0 0,5 -5,0"/><text y="2.6">SOCS2</text></g>
<g id="n-ZBTB40" transform="translate(561,550)"><polygon class="o1" points="0,-5 5,0 0,5 -5,0"/><text y="2.6">ZBTB40</text></g>
<g id="n-CPED1" transform="translate(561,586)"><polygon class="g1" points="0,-5 5,0 0,5 -5,0"/><text y="2.6">CPED1</text></g>
</g>

<g id="legend-A">
<text class="leg" x="636" y="349" text-anchor="middle">log2(FC)</text>
<rect x="618" y="355" width="16" height="65" fill="url(#fcA)"/>
<text class="leg" x="637" y="362">2.34</text>
<text class="leg" x="637" y="391">0</text>
<text class="leg" x="634" y="423">-2.34</text>
<text class="leg" x="626" y="442" text-anchor="middle">degree</text>
<rect x="618" y="447" width="16" height="58" fill="none" stroke="#eef3f6" stroke-width="0.8"/>
<polygon points="618,447 624,447 634,505 618,505" fill="#D4E3EC"/>
<text class="leg" x="637" y="453">1</text>
<text class="leg" x="637" y="509">17</text>
<text class="leg" x="627" y="525" text-anchor="middle">combined score</text>
<rect x="618" y="529" width="16" height="60" fill="none" stroke="#eef3f6" stroke-width="0.8"/>
<polygon points="618,529 621,529 634,589 618,589" fill="#D4E3EC"/>
<text class="leg" x="637" y="537">0.4</text>
<text class="leg" x="637" y="592">1.0</text>
</g>

<g id="panel-B">
<rect x="748" y="15" width="297" height="233" fill="none" stroke="#666" stroke-width="1"/>
<rect class="bar" x="761" y="20" width="230.4" height="28.4"/>
<rect class="bar" x="761" y="52.4" width="216.8" height="28.4"/>
<rect class="bar" x="761" y="84.8" width="162.6" height="28.4"/>
<rect class="bar" x="761" y="117.2" width="149" height="28.4"/>
<rect class="bar" x="761" y="149.6" width="149" height="28.4"/>
<rect class="bar" x="761" y="182" width="135.5" height="28.4"/>
<rect class="bar" x="761" y="214.4" width="135.5" height="28.4"/>
<text class="val" x="993" y="36.5">17</text>
<text class="val" x="979.5" y="68.9">16</text>
<text class="val" x="925.5" y="101.3">12</text>
<text class="val" x="912" y="133.7">11</text>
<text class="val" x="912" y="166.1">11</text>
<text class="val" x="898.5" y="198.5">10</text>
<text class="val" x="898.5" y="230.9">10</text>
<g stroke="#555" stroke-width="0.8">
<line x1="745" y1="34.2" x2="748" y2="34.2"/><line x1="745" y1="66.6" x2="748" y2="66.6"/><line x1="745" y1="99" x2="748" y2="99"/><line x1="745" y1="131.4" x2="748" y2="131.4"/><line x1="745" y1="163.8" x2="748" y2="163.8"/><line x1="745" y1="196.2" x2="748" y2="196.2"/><line x1="745" y1="228.6" x2="748" y2="228.6"/>
<line x1="761" y1="248" x2="761" y2="251"/><line x1="828.75" y1="248" x2="828.75" y2="251"/><line x1="896.5" y1="248" x2="896.5" y2="251"/><line x1="964.25" y1="248" x2="964.25" y2="251"/><line x1="1032" y1="248" x2="1032" y2="251"/>
</g>
<g class="ax" text-anchor="end">
<text x="743" y="37.4">ESR1</text><text x="743" y="69.8">BUB1</text><text x="743" y="102.2">PRC1</text><text x="743" y="134.6">LOX</text><text x="743" y="167">CCT5</text><text x="743" y="199.4">YWHAZ</text><text x="743" y="231.8">DDX39B</text>
</g>
<g class="ax" text-anchor="middle">
<text x="761" y="260.5">0</text><text x="828.75" y="260.5">5</text><text x="896.5" y="260.5">10</text><text x="964.25" y="260.5">15</text><text x="1032" y="260.5">20</text>
</g>
</g>

<g id="edges-C">
<line class="ce" x1="820" y1="357" x2="820" y2="401"/>
<line class="ce" x1="820" y1="357" x2="768" y2="435"/>
<line class="ce" x1="820" y1="357" x2="873" y2="435"/>
<line class="ce" x1="717" y1="408" x2="768" y2="435"/>
<line class="ce" x1="906" y1="383" x2="873" y2="435"/>
<line class="ce" x1="941" y1="413" x2="873" y2="435"/>
<line class="ce" x1="821" y1="461" x2="820" y2="401"/>
<line class="ce" x1="821" y1="461" x2="768" y2="435"/>
<line class="ce" x1="821" y1="461" x2="873" y2="435"/>
<path class="ce" d="M821,461 Q796,478 778,499"/>
<path class="ce" d="M821,461 Q812,492 778,499"/>
<line class="ce" x1="821" y1="461" x2="872" y2="499"/>
<line class="ce" x1="778" y1="499" x2="728" y2="540"/>
<line class="ce" x1="778" y1="499" x2="823" y2="543"/>
<line class="ce" x1="872" y1="499" x2="823" y2="543"/>
<line class="ce" x1="963" y1="452" x2="963" y2="492"/>
<line class="ce" x1="963" y1="492" x2="963" y2="539"/>
</g>
<g class="cn">
<g id="c-YWHAZ" transform="translate(820,357)"><polygon fill="#FDC287" points="0,-8 8,0 0,8 -8,0"/><text y="2.5">YWHAZ</text></g>
<g id="c-PRC1" transform="translate(906,383)"><polygon fill="#F5892F" points="0,-8 8,0 0,8 -8,0"/><text y="2.5">PRC1</text></g>
<g id="c-ESR1" transform="translate(717,408)"><polygon fill="#93B950" points="0,-7.5 7.5,0 0,7.5 -7.5,0"/><text y="2.5">ESR1</text></g>
<g id="c-DDX39B" transform="translate(941,413)"><polygon fill="#FBB26A" points="0,-8 8,0 0,8 -8,0"/><text y="2.5">DDX39B</text></g>
<g id="c-CCT5" transform="translate(963,452)"><polygon fill="#FDBB7D" points="0,-8 8,0 0,8 -8,0"/><text y="2.5">CCT5</text></g>
<g id="c-BUB1" transform="translate(728,540)"><polygon fill="#F9A04F" points="0,-8 8,0 0,8 -8,0"/><text y="2.5">BUB1</text></g>
<g id="c-LOX" transform="translate(823,543)"><polygon fill="#FDCB90" points="0,-8 8,0 0,8 -8,0"/><text y="2.5">LOX</text></g>
<g id="c-miR548k" transform="translate(820,401)"><polygon class="tri" points="0,-8.5 8,7.5 -8,7.5"/><text y="0.5">hsa-miR-548k</text></g>
<g id="c-miR1827" transform="translate(768,435)"><polygon class="tri" points="0,-8.5 8,7.5 -8,7.5"/><text y="1.5">hsa-miR-1827</text></g>
<g id="c-miR671" transform="translate(873,435)"><polygon class="tri" points="0,-8.5 8,7.5 -8,7.5"/><text y="1.5">hsa-miR-671-5p</text></g>
<g id="c-miR595" transform="translate(778,499)"><polygon class="tri" points="0,-8.5 8,7.5 -8,7.5"/><text y="1.5">hsa-miR-595</text></g>
<g id="c-miR767" transform="translate(872,499)"><polygon class="tri" points="0,-8.5 8,7.5 -8,7.5"/><text y="1.5">hsa-miR-767-5p</text></g>
<g id="c-miR661" transform="translate(963,492)"><polygon class="tri" points="0,-8.5 8,7.5 -8,7.5"/><text y="1.5">hsa-miR-661</text></g>
<g id="c-circ105031" transform="translate(821,461)"><circle class="circ" r="8.3"/><text y="2.5">hsa_circRNA_105031</text></g>
<g id="c-circ091581" transform="translate(963,539)"><circle class="circ" r="8.3"/><text y="2.5">hsa_circRNA_091581</text></g>
</g>
<g id="legend-C">
<circle class="circ" cx="1019" cy="418" r="6.3"/>
<text class="legc" x="1028" y="421.5">circRNA</text>
<polygon class="tri" points="1019,431 1025.5,442 1012.5,442"/>
<text class="legc" x="1028" y="441">miRNA</text>
<polygon fill="#F9B13D" points="1019,450 1025,456 1019,462 1013,456"/>
<text class="legc" x="1028" y="460">mRNA</text>
<text class="legc" x="1003" y="477.5">log2(FC)</text>
<rect x="1013" y="484" width="17" height="60" fill="url(#fcC)"/>
<text class="legc" x="1032" y="491">2.7</text>
<text class="legc" x="1032" y="517">0</text>
<text class="legc" x="1030" y="545">-2.7</text>
</g>
</svg>
